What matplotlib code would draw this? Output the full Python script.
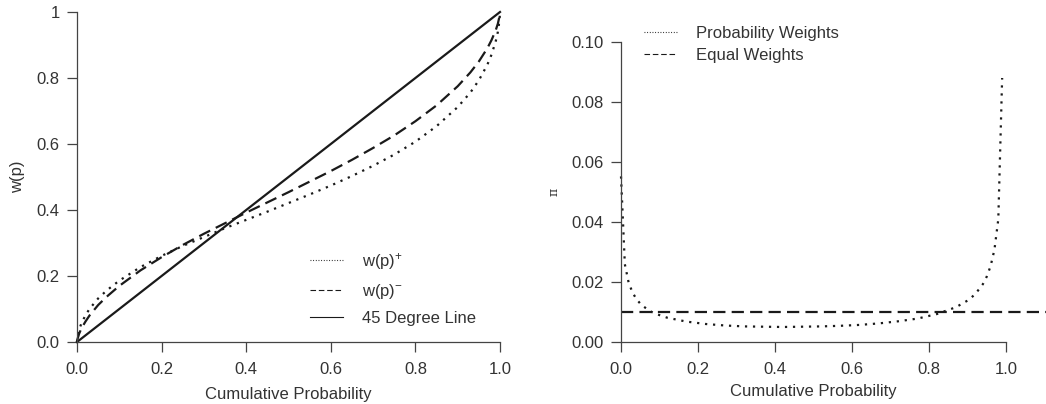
import matplotlib
matplotlib.use("Agg")
import matplotlib.pyplot as plt
from matplotlib.lines import Line2D

plt.rcParams['font.family'] = ['Liberation Sans', 'DejaVu Sans']
plt.rcParams['mathtext.fontset'] = 'custom'
plt.rcParams['mathtext.rm'] = 'Liberation Sans'
plt.rcParams['mathtext.it'] = 'Liberation Sans'

# ---- data ----
p_left = [0, 0.001, 0.005, 0.01, 0.02, 0.03, 0.05, 0.07, 0.1, 0.15, 0.2, 0.25, 0.3, 0.35,
          0.4, 0.45, 0.5, 0.55, 0.6, 0.65, 0.7, 0.75, 0.8, 0.85, 0.9, 0.93, 0.95, 0.97,
          0.98, 0.99, 0.995, 0.999, 1]
w_plus = [0, 0.014, 0.037, 0.055, 0.081, 0.101, 0.132, 0.156, 0.186, 0.227, 0.261, 0.291,
          0.318, 0.345, 0.370, 0.395, 0.421, 0.447, 0.474, 0.503, 0.534, 0.568, 0.607,
          0.654, 0.712, 0.756, 0.793, 0.840, 0.871, 0.912, 0.940, 0.977, 1]
w_minus = [0, 0.008, 0.025, 0.040, 0.062, 0.081, 0.112, 0.137, 0.170, 0.217, 0.257, 0.294,
           0.328, 0.360, 0.392, 0.423, 0.454, 0.486, 0.518, 0.552, 0.588, 0.626, 0.669,
           0.717, 0.775, 0.817, 0.850, 0.890, 0.915, 0.945, 0.965, 0.988, 1]
diag = [0, 1]

x_right = [0, .01, .02, .03, .04, .05, .06, .07, .08, .09, .12, .17, .22, .27, .32, .37,
           .42, .47, .52, .57, .62, .67, .72, .77, .82, .87, .90, .91, .92, .93, .94, .95,
           .96, .97, .98, .99]
pi_weights = [.0552, .0259, .0197, .0165, .0143, .0128, .0117, .0108, .0100, .0094, .0081,
              .0068, .0060, .0055, .0052, .0051, .0050, .0051, .0052, .0054, .0057, .0062,
              .0069, .0078, .0093, .0116, .0138, .0148, .0160, .0176, .0193, .0218, .0253,
              .0308, .0409, .0880]
equal_weight = 0.01

left_yticks = [0, 0.2, 0.4, 0.6, 0.8, 1]
left_yticklabels = ['0.0', '0.2', '0.4', '0.6', '0.8', '1']
xticks = [0, 0.2, 0.4, 0.6, 0.8, 1.0]
xticklabels = ['0.0', '0.2', '0.4', '0.6', '0.8', '1.0']
right_yticks = [0, 0.02, 0.04, 0.06, 0.08, 0.10]
right_yticklabels = ['0.00', '0.02', '0.04', '0.06', '0.08', '0.10']

TXT = '#333333'
AX = '#444444'
LN = '#1a1a1a'
FS = 12

W, H = 1046, 404
fig = plt.figure(figsize=(W / 100, H / 100), dpi=100)

def px_axes(x0, x1, ytop, ybot):
    return fig.add_axes([x0 / W, 1 - ybot / H, (x1 - x0) / W, (ybot - ytop) / H])

dot = (0, (1.0, 2.6))
dash = (0, (5.5, 2.8))

def style(ax):
    for s in ('top', 'right'):
        ax.spines[s].set_visible(False)
    for s in ('left', 'bottom'):
        ax.spines[s].set_color(AX)
        ax.spines[s].set_linewidth(0.9)
    ax.tick_params(direction='out', length=7.5, width=0.9, color=AX, labelcolor=TXT,
                   labelsize=FS, pad=5)
    ax.tick_params(axis='x', pad=7)

# ---- left panel ----
ax1 = px_axes(77, 500, 12, 342)
ax1.plot(p_left, w_plus, color=LN, lw=1.6, linestyle=dot, clip_on=False)
ax1.plot(p_left, w_minus, color=LN, lw=1.6, linestyle=dash, clip_on=False)
ax1.plot(diag, diag, color=LN, lw=1.6, clip_on=False)
ax1.set_xlim(0, 1)
ax1.set_ylim(0, 1)
style(ax1)
ax1.set_xticks(xticks)
ax1.set_xticklabels(xticklabels)
ax1.set_yticks(left_yticks)
ax1.set_yticklabels(left_yticklabels)
ax1.set_xlabel('Cumulative Probability', fontsize=FS, color=TXT, labelpad=7)
ax1.set_ylabel('w(p)', fontsize=FS, color=TXT, labelpad=8)

h1 = [Line2D([], [], color=LN, lw=0.8, linestyle=(0, (0.8, 1.6))),
      Line2D([], [], color=LN, lw=0.8, linestyle=(0, (5, 2.5))),
      Line2D([], [], color=LN, lw=0.8)]
leg1 = ax1.legend(h1, [r'w(p)$^{+}$', r'w(p)$^{-}$', '45 Degree Line'],
                  loc='upper left', bbox_to_anchor=(310 / W, 1 - 251 / H),
                  bbox_transform=fig.transFigure, frameon=False, fontsize=FS,
                  handlelength=2.0, handletextpad=1.1, labelspacing=0.6,
                  borderpad=0, borderaxespad=0)
for t in leg1.get_texts():
    t.set_color(TXT)

# ---- right panel ----
ax2 = px_axes(621, 1046, 42, 342)
ax2.plot(x_right, pi_weights, color=LN, lw=1.6, linestyle=dot, clip_on=False)
ax2.axhline(equal_weight, color=LN, lw=1.6, linestyle=dash)
ax2.set_xlim(0, (1046 - 621) / 385)
ax2.set_ylim(0, 0.1)
style(ax2)
ax2.spines['bottom'].set_bounds(0, 1)
ax2.set_xticks(xticks)
ax2.set_xticklabels(xticklabels)
ax2.set_yticks(right_yticks)
ax2.set_yticklabels(right_yticklabels)
ax2.set_xlabel('Cumulative Probability', fontsize=FS, color=TXT)
ax2.xaxis.set_label_coords(0.5 / ((1046 - 621) / 385), -0.14)
ax2.set_ylabel('π', fontsize=9, color=TXT, family=['DejaVu Serif'], labelpad=8)

h2 = [Line2D([], [], color=LN, lw=0.8, linestyle=(0, (0.8, 1.6))),
      Line2D([], [], color=LN, lw=0.8, linestyle=(0, (5, 2.5)))]
leg2 = ax2.legend(h2, ['Probability Weights', 'Equal Weights'],
                  loc='upper left', bbox_to_anchor=(644 / W, 1 - 26 / H),
                  bbox_transform=fig.transFigure, frameon=False, fontsize=FS,
                  handlelength=2.0, handletextpad=1.1, labelspacing=0.4,
                  borderpad=0, borderaxespad=0)
for t in leg2.get_texts():
    t.set_color(TXT)

fig.savefig('out.png', dpi=100)
